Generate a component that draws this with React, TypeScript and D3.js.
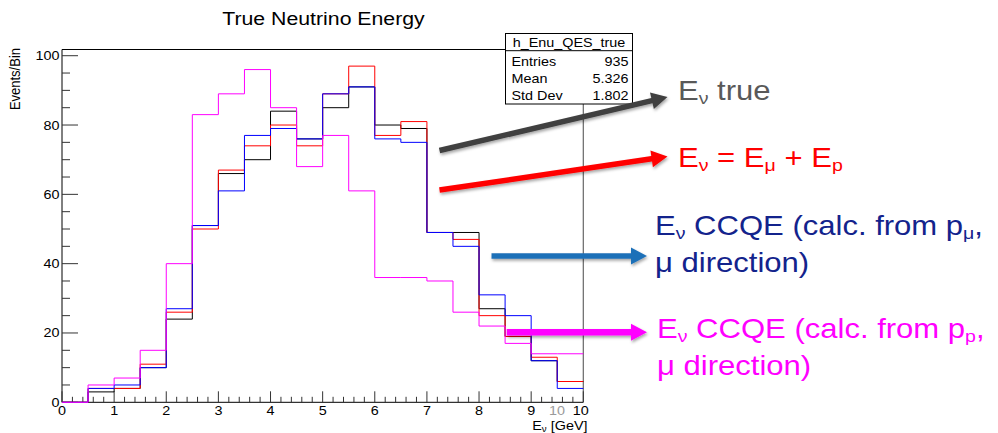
import React from "react";
import * as d3 from "d3";

// Bin edges of the energy histogram (GeV)
const binEdges = [0, 0.5, 1, 1.5, 2, 2.5, 3, 3.5, 4, 4.5, 5, 5.5, 6, 6.5, 7, 7.5, 8, 8.5, 9, 9.5, 10];

// Events per bin for each reconstruction
const trueEnergy = [0, 3, 4, 10, 24, 51, 66, 70, 84, 76, 85, 91, 80, 79, 49, 49, 27, 19, 12, 6];
const sumEnergy = [0, 4, 4, 11, 26, 50, 67, 74, 80, 74, 89, 97, 77, 81, 49, 47, 25, 19, 13, 6];
const ccqeMuon = [0, 4, 5, 10, 27, 51, 61, 77, 79, 76, 89, 91, 76, 75, 49, 45, 31, 25, 12, 4];
const ccqeProton = [0, 5, 7, 15, 40, 83, 89, 96, 85, 68, 77, 61, 36, 36, 35, 26, 22, 17, 14, 14];

const xTicks = [0, 1, 2, 3, 4, 5, 6, 7, 8, 9, 10];
const yTicks = [0, 20, 40, 60, 80, 100];

const statsTitle = "h_Enu_QES_true";
const statsLabels = ["Entries", "Mean", "Std Dev"];
const statsValues = ["935", "5.326", "1.802"];

const W = 998;
const H = 433;
const SX = 1.15;
const FONT = "'Liberation Sans', Arial, Helvetica, sans-serif";

const x = d3.scaleLinear().domain([0, 10]).range([62, 583.3]);
const y = d3.scaleLinear().domain([0, 101.85]).range([402.3, 49.3]);

const stepLine = d3
  .line<[number, number]>()
  .x((d) => x(d[0]))
  .y((d) => y(d[1]))
  .curve(d3.curveStepAfter);

function histPath(values: number[]) {
  const pts: [number, number][] = values.map((v, i) => [binEdges[i], v]);
  pts.push([binEdges[binEdges.length - 1], values[values.length - 1]]);
  return stepLine(pts) || "";
}

function T(props: {
  x: number;
  y: number;
  size: number;
  anchor?: "start" | "middle" | "end";
  fill?: string;
  children: React.ReactNode;
}) {
  const { x: tx, y: ty, size, anchor = "start", fill = "#000", children } = props;
  return (
    <text
      transform={`translate(${tx},${ty}) scale(${SX},1)`}
      textAnchor={anchor}
      fontSize={size}
      fill={fill}
      fontFamily={FONT}
    >
      {children}
    </text>
  );
}

function arrowPath(x0: number, y0: number, x1: number, y1: number, w: number, hl: number, hw: number) {
  const dx = x1 - x0;
  const dy = y1 - y0;
  const len = Math.hypot(dx, dy);
  const ux = dx / len;
  const uy = dy / len;
  const nx = -uy;
  const ny = ux;
  const bx = x1 - ux * hl;
  const by = y1 - uy * hl;
  const p = (a: number, b: number) => `${a.toFixed(2)},${b.toFixed(2)}`;
  return [
    "M" + p(x0 + nx * w / 2, y0 + ny * w / 2),
    "L" + p(bx + nx * w / 2, by + ny * w / 2),
    "L" + p(bx + nx * hw / 2, by + ny * hw / 2),
    "L" + p(x1, y1),
    "L" + p(bx - nx * hw / 2, by - ny * hw / 2),
    "L" + p(bx - nx * w / 2, by - ny * w / 2),
    "L" + p(x0 - nx * w / 2, y0 - ny * w / 2),
    "Z",
  ].join(" ");
}

const arrows = [
  { from: [439.5, 150.5], to: [667.5, 97], color: "#404040", w: 5.5 },
  { from: [439.5, 190], to: [667.5, 156.5], color: "#ff0000", w: 5.5 },
  { from: [491.5, 256], to: [647, 256], color: "#1f70b8", w: 5.5 },
  { from: [506.7, 332.3], to: [647, 332.3], color: "#ff00ff", w: 6.5 },
];

export default function App() {
  const minorY = d3.range(0, 101, 5).filter((v) => v % 20 !== 0);
  const minorX = d3.range(0, 50).map((i) => i * 0.2).filter((_, i) => i % 5 !== 0);
  const SUB = 17;
  const BIG = 27;

  return (
    <svg
      width={W}
      height={H}
      viewBox={`0 0 ${W} ${H}`}
      style={{ position: "absolute", left: 0, top: 0, background: "#fff" }}
    >
      <defs>
        <filter id="shadow" x="-10%" y="-50%" width="120%" height="200%">
          <feDropShadow dx="1" dy="2" stdDeviation="1.5" floodColor="#000" floodOpacity="0.35" />
        </filter>
      </defs>
      <rect x={0} y={0} width={W} height={H} fill="#fff" />

      {/* title */}
      <T x={323.5} y={25} size={18.5} anchor="middle">True Neutrino Energy</T>

      {/* frame */}
      <line x1={x(0)} x2={x(10)} y1={49.5} y2={49.5} stroke="#000" strokeWidth={1} />
      <line x1={x(10)} x2={x(10)} y1={49.5} y2={y(0)} stroke="#666" strokeWidth={1.2} />
      <line x1={x(0)} x2={x(0)} y1={49.5} y2={y(0)} stroke="#000" strokeWidth={1} />
      <line x1={x(0)} x2={x(10)} y1={y(0)} y2={y(0)} stroke="#000" strokeWidth={1} />

      {/* y ticks */}
      {yTicks.map((v) => (
        <line key={"ym" + v} x1={x(0)} x2={x(0) + 16} y1={y(v)} y2={y(v)} stroke="#333" strokeWidth={1} />
      ))}
      {minorY.map((v) => (
        <line key={"yn" + v} x1={x(0)} x2={x(0) + 8} y1={y(v)} y2={y(v)} stroke="#333" strokeWidth={1} />
      ))}
      {yTicks.map((v) => (
        <T key={"yl" + v} x={59.5} y={y(v) + 4.5} size={12.5} anchor="end">
          {String(v)}
        </T>
      ))}

      {/* x ticks */}
      {xTicks.map((v) => (
        <line key={"xm" + v} x1={x(v)} x2={x(v)} y1={y(0)} y2={y(0) - 11} stroke="#333" strokeWidth={1} />
      ))}
      {minorX.map((v) => (
        <line key={"xn" + v} x1={x(v)} x2={x(v)} y1={y(0)} y2={y(0) - 5.5} stroke="#333" strokeWidth={1} />
      ))}
      {xTicks.map((v) => (
        <T key={"xl" + v} x={v === 10 ? x(v) - 2.5 : x(v)} y={415} size={12.5} anchor="middle">
          {String(v)}
        </T>
      ))}
      <T x={557} y={415} size={12.5} anchor="middle" fill="#9a9a9a">10</T>

      {/* axis titles */}
      <text
        transform={`translate(20,48) rotate(-90) scale(1,${SX})`}
        textAnchor="end"
        fontSize={13}
        fontFamily={FONT}
      >
        Events/Bin
      </text>
      <T x={587.5} y={429.5} size={12.5} anchor="end">
        E<tspan fontSize={8.5} dy={2}>ν</tspan>
        <tspan dy={-2}> [GeV]</tspan>
      </T>

      {/* histograms */}
      <path d={histPath(trueEnergy)} fill="none" stroke="#000000" strokeWidth={1} />
      <path d={histPath(sumEnergy)} fill="none" stroke="#ff0000" strokeWidth={1} />
      <path d={histPath(ccqeMuon)} fill="none" stroke="#0000ff" strokeWidth={1} />
      <path d={histPath(ccqeProton)} fill="none" stroke="#ff00ff" strokeWidth={1} />

      {/* statistics box */}
      <rect x={505.5} y={33.5} width={127} height={70.5} fill="#fff" stroke="#000" strokeWidth={1} />
      <line x1={505.5} x2={632.5} y1={50.7} y2={50.7} stroke="#000" strokeWidth={1} />
      <T x={569} y={46.5} size={12.5} anchor="middle">{statsTitle}</T>
      {statsLabels.map((l, i) => (
        <g key={l}>
          <T x={511.5} y={65.5 + i * 17} size={12.5}>{l}</T>
          <T x={628.5} y={65.5 + i * 17} size={12.5} anchor="end">{statsValues[i]}</T>
        </g>
      ))}

      {/* annotation arrows */}
      {arrows.map((a, i) => (
        <path
          key={"ar" + i}
          d={arrowPath(a.from[0], a.from[1], a.to[0], a.to[1], a.w, 16, 17)}
          fill={a.color}
          filter="url(#shadow)"
        />
      ))}

      {/* annotation texts */}
      <T x={678} y={100} size={BIG} fill="#595959">
        E<tspan fontSize={SUB} dy={4}>ν</tspan>
        <tspan dy={-4}> true</tspan>
      </T>
      <T x={678} y={166.5} size={BIG} fill="#ff0000">
        E<tspan fontSize={SUB} dy={4}>ν</tspan>
        <tspan dy={-4}> = E</tspan>
        <tspan fontSize={SUB} dy={4}>μ</tspan>
        <tspan dy={-4}> + E</tspan>
        <tspan fontSize={SUB} dy={4}>p</tspan>
      </T>
      <T x={655} y={235} size={BIG} fill="#13238c">
        E<tspan fontSize={SUB} dy={4}>ν</tspan>
        <tspan dy={-4}> CCQE (calc. from p</tspan>
        <tspan fontSize={SUB} dy={4}>μ</tspan>
        <tspan dy={-4}>,</tspan>
      </T>
      <T x={655} y={272} size={BIG} fill="#13238c">μ direction)</T>
      <T x={657} y={338} size={BIG} fill="#ff00ff">
        E<tspan fontSize={SUB} dy={4}>ν</tspan>
        <tspan dy={-4}> CCQE (calc. from p</tspan>
        <tspan fontSize={SUB} dy={4}>p</tspan>
        <tspan dy={-4}>,</tspan>
      </T>
      <T x={657} y={375} size={BIG} fill="#ff00ff">μ direction)</T>
    </svg>
  );
}
